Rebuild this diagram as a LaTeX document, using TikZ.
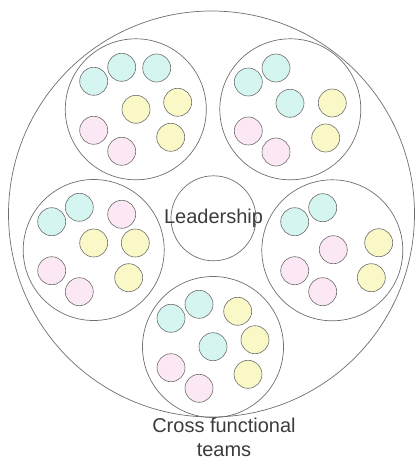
\documentclass[tikz,border=0pt]{standalone}
\usepackage{fontspec}
\setmainfont{Liberation Sans}

\definecolor{linegray}{HTML}{6E6E6E}
\definecolor{textgray}{HTML}{3C3C3C}
\definecolor{tcyan}{HTML}{D4F5F0}
\definecolor{tyellow}{HTML}{FAF8C6}
\definecolor{tpink}{HTML}{FCE8F4}

\begin{document}
\begin{tikzpicture}[x=1pt, y=-1pt,
    ring/.style={circle, draw=linegray, line width=0.7pt, inner sep=0pt},
    team/.style={ring, minimum size=141pt},
    member/.style={circle, draw=linegray, line width=0.6pt, inner sep=0pt, minimum size=28pt},
    lbl/.style={text=textgray, font=\fontsize{20}{24.5}\selectfont, inner sep=0pt, align=center}]
    \useasboundingbox (0,0) rectangle (416,460);

    % whole organisation
    \node[ring, minimum size=406pt] (org) at (211.5,214) {};

    % leadership in the middle
    \node[ring, minimum size=85pt] (lead) at (213.5,218.3) {};
    \node[lbl] (leadtext) at (lead.center) {Leadership};

    % the five teams
    \foreach \x/\y [count=\i] in {135.8/109.3, 290.3/109.3, 93.7/250, 332.3/250.3, 213/347}
        \node[team] (team\i) at (\x,\y) {};

    % members of each team
    \foreach \x/\y/\c [count=\i] in {
        93.7/81.3/tcyan, 121.7/67.3/tcyan, 156.7/68/tcyan,
        136/109.3/tyellow, 177.7/102.3/tyellow, 170.7/137.3/tyellow,
        93.7/130.3/tpink, 121.7/151.3/tpink,
        248.3/82/tcyan, 276/68/tcyan, 290/103.3/tcyan,
        332.3/103/tyellow, 325.7/138/tyellow,
        248.3/131/tpink, 276/152/tpink,
        51.7/221.7/tcyan, 79.3/207.3/tcyan, 121.7/214.3/tpink,
        93.7/243/tyellow, 135.3/243/tyellow, 128.7/277.7/tyellow,
        51.7/270.7/tpink, 79.3/291.7/tpink,
        294.7/221.7/tcyan, 322.7/207.7/tcyan, 333.3/249.7/tpink,
        378.7/242.7/tyellow, 371.3/277.7/tyellow,
        294.7/270.7/tpink, 322.7/291.7/tpink,
        171/318.3/tcyan, 199/304.3/tcyan, 213/346.7/tcyan,
        237.7/311.3/tyellow, 255/339.7/tyellow, 248/374.3/tyellow,
        171/367.7/tpink, 199/388.3/tpink}
        \node[member, fill=\c] (m\i) at (\x,\y) {};

    \node[lbl] (caption) at (224,437.3) {Cross functional\\teams};
\end{tikzpicture}
\end{document}
